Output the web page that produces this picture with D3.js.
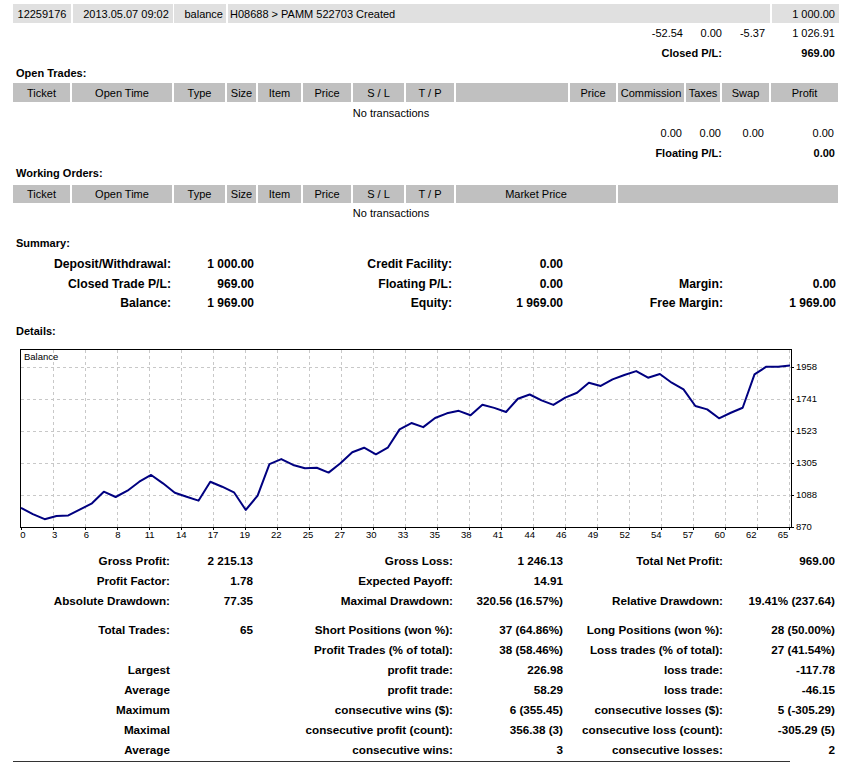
<!DOCTYPE html>
<html>
<head>
<meta charset="utf-8">
<script src="https://cdn.jsdelivr.net/npm/d3@7"></script>
<style>
  html, body { margin: 0; padding: 0; background: #fff; }
  svg { display: block; }
  text { font-family: "Liberation Sans", Arial, sans-serif; fill: #000; }
</style>
</head>
<body>
<div id="chart"></div>
<script>
// ---------------- DATA ----------------
const balance = [1000, 958, 923, 945, 949, 990, 1031, 1110, 1074, 1117,
  1178, 1224, 1167, 1103, 1076, 1049, 1178, 1144, 1106, 986,
  1083, 1298, 1332, 1292, 1269, 1273, 1240, 1303, 1378, 1409,
  1364, 1409, 1534, 1577, 1549, 1611, 1643, 1660, 1630, 1701,
  1680, 1652, 1742, 1771, 1731, 1700, 1750, 1783, 1851, 1829,
  1874, 1904, 1930, 1885, 1910, 1851, 1806, 1693, 1670, 1609,
  1647, 1681, 1908, 1960, 1960, 1969];
const xTickLabels = [0, 3, 6, 8, 11, 14, 17, 19, 22, 25, 27, 30, 33, 35, 38, 41, 44, 46, 49, 52, 54, 57, 60, 62, 65];
const yTickValues = [870, 1088, 1305, 1523, 1741, 1958];

const balanceRow = ["12259176", "2013.05.07 09:02", "balance", "H08688 > PAMM 522703 Created", "1 000.00"];
const closedTotals = ["-52.54", "0.00", "-5.37", "1 026.91"];
const openTotals = ["0.00", "0.00", "0.00", "0.00"];
const openHeaders = ["Ticket", "Open Time", "Type", "Size", "Item", "Price", "S / L", "T / P", "", "Price", "Commission", "Taxes", "Swap", "Profit"];
const workingHeaders = ["Ticket", "Open Time", "Type", "Size", "Item", "Price", "S / L", "T / P", "Market Price", ""];

const summaryLabels1 = ["Deposit/Withdrawal:", "Closed Trade P/L:", "Balance:"];
const summaryValues1 = ["1 000.00", "969.00", "1 969.00"];
const summaryLabels2 = ["Credit Facility:", "Floating P/L:", "Equity:"];
const summaryValues2 = ["0.00", "0.00", "1 969.00"];
const summaryLabels3 = ["", "Margin:", "Free Margin:"];
const summaryValues3 = ["", "0.00", "1 969.00"];

const statLabels1 = ["Gross Profit:", "Profit Factor:", "Absolute Drawdown:", "Total Trades:", "", "Largest", "Average", "Maximum", "Maximal", "Average"];
const statValues1 = ["2 215.13", "1.78", "77.35", "65", "", "", "", "", "", ""];
const statLabels2 = ["Gross Loss:", "Expected Payoff:", "Maximal Drawdown:", "Short Positions (won %):", "Profit Trades (% of total):", "profit trade:", "profit trade:", "consecutive wins ($):", "consecutive profit (count):", "consecutive wins:"];
const statValues2 = ["1 246.13", "14.91", "320.56 (16.57%)", "37 (64.86%)", "38 (58.46%)", "226.98", "58.29", "6 (355.45)", "356.38 (3)", "3"];
const statLabels3 = ["Total Net Profit:", "", "Relative Drawdown:", "Long Positions (won %):", "Loss trades (% of total):", "loss trade:", "loss trade:", "consecutive losses ($):", "consecutive loss (count):", "consecutive losses:"];
const statValues3 = ["969.00", "", "19.41% (237.64)", "28 (50.00%)", "27 (41.54%)", "-117.78", "-46.15", "5 (-305.29)", "-305.29 (5)", "2"];

// ---------------- LAYOUT ----------------
const W = 853, H = 762;
const svg = d3.select("#chart").append("svg").attr("width", W).attr("height", H);
svg.append("rect").attr("width", W).attr("height", H).attr("fill", "#fff");

function txt(x, y, s, opts = {}) {
  if (s === "") return;
  svg.append("text")
    .attr("x", x).attr("y", y).attr("dy", "0.38em")
    .attr("text-anchor", opts.anchor || "start")
    .attr("font-size", (opts.size || 11) + "px")
    .attr("font-weight", opts.bold ? "bold" : "normal")
    .text(s);
}

// Balance row
const rowCells = [[13, 71], [73, 173], [174, 226], [228, 770], [772, 839]];
rowCells.forEach(c => svg.append("rect").attr("x", c[0]).attr("y", 4).attr("width", c[1] - c[0]).attr("height", 19).attr("fill", "#e0e0e0"));
txt(42, 14, balanceRow[0], { anchor: "middle" });
txt(126, 14, balanceRow[1], { anchor: "middle" });
txt(223, 14, balanceRow[2], { anchor: "end" });
txt(230, 14, balanceRow[3]);
txt(835, 14, balanceRow[4], { anchor: "end" });

const totalsX = [683, 722, 765, 835];
closedTotals.forEach((s, i) => txt(totalsX[i], 33, s, { anchor: "end" }));
txt(722, 53, "Closed P/L:", { anchor: "end", bold: true });
txt(835, 53, "969.00", { anchor: "end", bold: true });

txt(16, 73, "Open Trades:", { bold: true });

const openCols = [[13, 71], [72, 173], [174, 226], [227, 257], [258, 302], [303, 352], [353, 405], [406, 455], [456, 569], [570, 617], [618, 685], [686, 721], [722, 770], [771, 839]];
openCols.forEach((c, i) => {
  svg.append("rect").attr("x", c[0]).attr("y", 83).attr("width", c[1] - c[0] - 1).attr("height", 19).attr("fill", "#c0c0c0");
  txt((c[0] + c[1] - 1) / 2, 93, openHeaders[i], { anchor: "middle" });
});
txt(391, 113, "No transactions", { anchor: "middle" });

openTotals.forEach((s, i) => txt(totalsX[i] - 1, 133, s, { anchor: "end" }));
txt(722, 153, "Floating P/L:", { anchor: "end", bold: true });
txt(835, 153, "0.00", { anchor: "end", bold: true });

txt(16, 173, "Working Orders:", { bold: true });
const workCols = [[13, 71], [72, 173], [174, 226], [227, 257], [258, 302], [303, 352], [353, 405], [406, 455], [456, 617], [618, 839]];
workCols.forEach((c, i) => {
  svg.append("rect").attr("x", c[0]).attr("y", 185).attr("width", c[1] - c[0] - 1).attr("height", 18).attr("fill", "#c0c0c0");
  txt((c[0] + c[1] - 1) / 2, 194, workingHeaders[i], { anchor: "middle" });
});
txt(391, 213, "No transactions", { anchor: "middle" });

// Summary
txt(16, 243, "Summary:", { bold: true });
const sumY = [263, 283, 302];
sumY.forEach((y, i) => {
  txt(171, y, summaryLabels1[i], { anchor: "end", bold: true, size: 12.2 });
  txt(254, y, summaryValues1[i], { anchor: "end", bold: true, size: 12 });
  txt(452, y, summaryLabels2[i], { anchor: "end", bold: true, size: 12.2 });
  txt(563, y, summaryValues2[i], { anchor: "end", bold: true, size: 12 });
  txt(723, y, summaryLabels3[i], { anchor: "end", bold: true, size: 12.2 });
  txt(836, y, summaryValues3[i], { anchor: "end", bold: true, size: 12 });
});
txt(16, 331, "Details:", { bold: true });

// ---------------- CHART ----------------
const box = { left: 20, top: 349, right: 791, bottom: 527 };
const x = d3.scaleLinear().domain([0, balance.length - 1]).range([21, 790]);
const y = d3.scaleLinear().domain([yTickValues[0], yTickValues[yTickValues.length - 1]]).range([527, 367]);
const gridX = d3.scaleLinear().domain([0, xTickLabels.length - 1]).range([21, 789]);
const labelX = d3.scaleLinear().domain([0, xTickLabels.length - 1]).range([23, 783]);

const g = svg.append("g");
// grid
xTickLabels.forEach((_, k) => {
  if (k === 0) return;
  g.append("line").attr("x1", gridX(k)).attr("x2", gridX(k)).attr("y1", box.top + 1).attr("y2", box.bottom)
    .attr("stroke", "#c8c8c8").attr("stroke-dasharray", "3,3").attr("shape-rendering", "crispEdges");
});
yTickValues.forEach((v, k) => {
  if (k === 0) return;
  g.append("line").attr("x1", box.left + 1).attr("x2", box.right).attr("y1", Math.round(y(v)) + 0.5).attr("y2", Math.round(y(v)) + 0.5)
    .attr("stroke", "#c8c8c8").attr("stroke-dasharray", "3,3").attr("shape-rendering", "crispEdges");
});
// frame
g.append("rect").attr("x", box.left + 0.5).attr("y", box.top + 0.5).attr("width", box.right - box.left).attr("height", box.bottom - box.top)
  .attr("fill", "none").attr("stroke", "#000").attr("shape-rendering", "crispEdges");
// ticks
xTickLabels.forEach((lab, k) => {
  g.append("line").attr("x1", gridX(k)).attr("x2", gridX(k)).attr("y1", box.bottom).attr("y2", box.bottom + 3).attr("stroke", "#000").attr("shape-rendering", "crispEdges");
  g.append("text").attr("x", labelX(k)).attr("y", 535).attr("dy", "0.35em").attr("text-anchor", "middle").attr("font-size", "9.5px").text(lab);
});
yTickValues.forEach(v => {
  g.append("line").attr("x1", box.right).attr("x2", box.right + 3).attr("y1", Math.round(y(v)) + 0.5).attr("y2", Math.round(y(v)) + 0.5).attr("stroke", "#000").attr("shape-rendering", "crispEdges");
  g.append("text").attr("x", 796).attr("y", y(v)).attr("dy", "0.35em").attr("font-size", "9.5px").text(v);
});
g.append("text").attr("x", 24).attr("y", 357).attr("dy", "0.35em").attr("font-size", "9.5px").text("Balance");

// line
g.append("path").datum(balance)
  .attr("d", d3.line().x((d, i) => x(i)).y(d => y(d)))
  .attr("fill", "none").attr("stroke", "#000080").attr("stroke-width", 2).attr("stroke-linejoin", "round");

// ---------------- STATS ----------------
const statY = [561, 581, 601, 630, 650, 670, 690, 710, 730, 750];
statY.forEach((yy, i) => {
  txt(170, yy, statLabels1[i], { anchor: "end", bold: true, size: 11.7 });
  txt(253, yy, statValues1[i], { anchor: "end", bold: true, size: 11.7 });
  txt(453, yy, statLabels2[i], { anchor: "end", bold: true, size: 11.7 });
  txt(563, yy, statValues2[i], { anchor: "end", bold: true, size: 11.7 });
  txt(723, yy, statLabels3[i], { anchor: "end", bold: true, size: 11.7 });
  txt(835, yy, statValues3[i], { anchor: "end", bold: true, size: 11.7 });
});
svg.append("line").attr("x1", 13).attr("x2", 790).attr("y1", 761.5).attr("y2", 761.5).attr("stroke", "#333");
</script>
</body>
</html>
